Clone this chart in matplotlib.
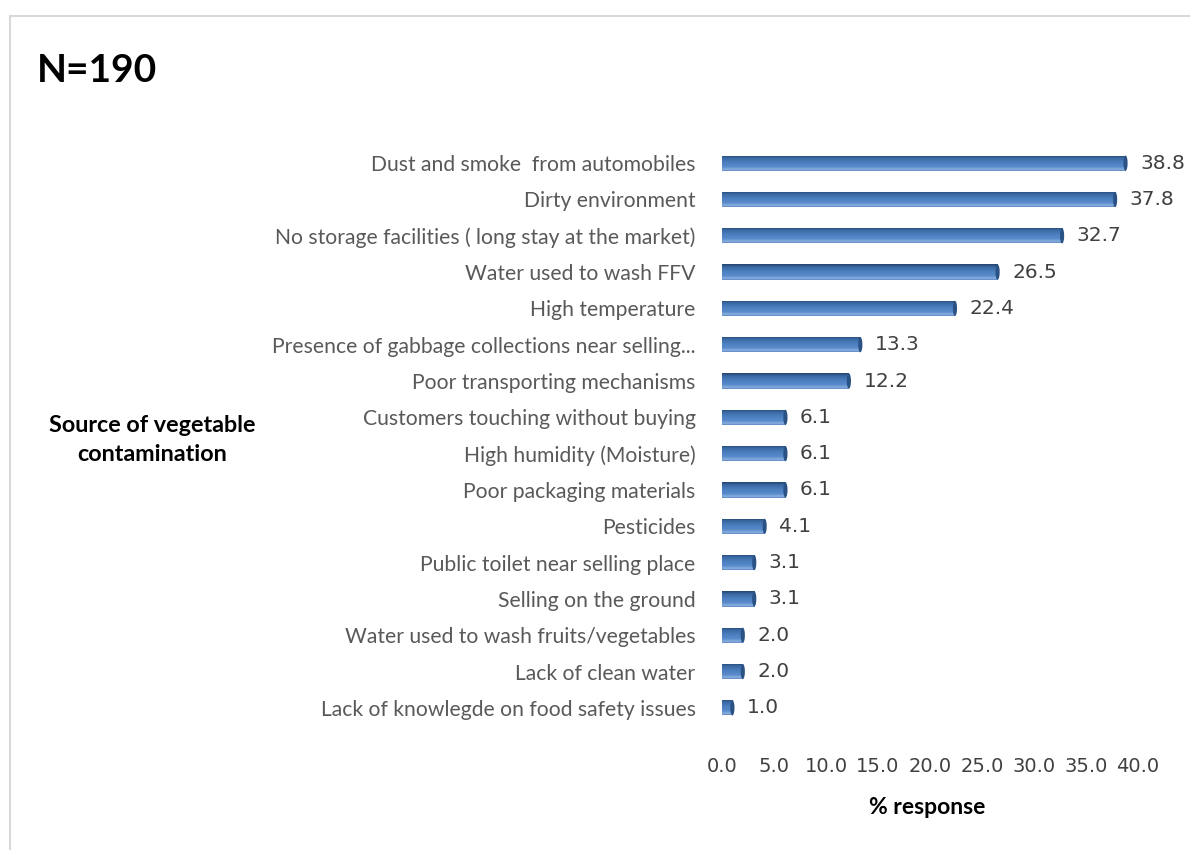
import numpy as np
import matplotlib
matplotlib.use("Agg")
import matplotlib.pyplot as plt
from matplotlib.colors import LinearSegmentedColormap
from matplotlib.patches import Rectangle, Ellipse

# datos del grafico (de arriba a abajo)
categorias = ["Dust and smoke  from automobiles",
              "Dirty environment",
              "No storage facilities ( long stay at the market)",
              "Water used to wash FFV",
              "High temperature",
              "Presence of gabbage collections near selling...",
              "Poor transporting mechanisms",
              "Customers touching without buying",
              "High humidity (Moisture)",
              "Poor packaging materials",
              "Pesticides",
              "Public toilet near selling place",
              "Selling on the ground",
              "Water used to wash fruits/vegetables",
              "Lack of clean water",
              "Lack of knowlegde on food safety issues"]
valores = [38.8, 37.8, 32.7, 26.5, 22.4, 13.3, 12.2, 6.1, 6.1, 6.1,
           4.1, 3.1, 3.1, 2.0, 2.0, 1.0]
ticks_x = [0, 5, 10, 15, 20, 25, 30, 35, 40]

W, H = 1190, 850
fig = plt.figure(figsize=(W / 100, H / 100), dpi=100)
fig.patch.set_facecolor("white")

# marco gris del grafico
fig.patches.append(Rectangle((10 / W, -0.1), 1.2, 1.1 - 16 / H,
                             transform=fig.transFigure, fill=False,
                             edgecolor="#D9D9D9", lw=1.5))

ax = fig.add_axes([722 / W, 1 - 726 / H, 416 / W, 581 / H])

y = np.arange(len(categorias))
bars = ax.barh(y, valores, height=0.42, color="#4F81BD", zorder=2)

# efecto cilindro con gradiente (abajo oscuro, arriba claro)
cmap = LinearSegmentedColormap.from_list(
    "cil", [(0.0, "#24456E"), (0.18, "#3A68A3"), (0.45, "#4A7EBE"),
            (0.75, "#5A8CCB"), (0.9, "#8AB0E0"), (1.0, "#5C88C2")])
grad = np.linspace(0, 1, 64).reshape(-1, 1)
for b in bars:
    x0, y0 = b.get_xy()
    w, h = b.get_width(), b.get_height()
    im = ax.imshow(grad, extent=[x0, x0 + w, y0 + h, y0], aspect="auto",
                   cmap=cmap, origin="upper", zorder=3, interpolation="bilinear")
    im.set_clip_path(b)
    ax.add_patch(Ellipse((x0 + w, y0 + h / 2), 0.4, h, facecolor="#2A5285",
                         edgecolor="none", zorder=4))
    ax.text(x0 + w + 1.4, y0 + h / 2, f"{w:.1f}", va="center", ha="left",
            fontsize=14.5, color="#404040", family="DejaVu Sans")

ax.set_xlim(0, 40)
ax.set_ylim(len(categorias) - 0.5, -0.5)
ax.set_xticks(ticks_x)
ax.set_xticklabels([f"{t:.1f}" for t in ticks_x], fontsize=14,
                   color="#404040", family="DejaVu Sans")
ax.set_yticks(y)
ax.set_yticklabels(categorias, fontsize=15.2, color="#595959", family="Lato")
ax.tick_params(axis="x", length=0, pad=22)
ax.tick_params(axis="y", length=0, pad=19)
for s in ax.spines.values():
    s.set_visible(False)

fig.text(37 / W, 1 - 82 / H, "N=190", fontsize=28, fontweight="bold",
         family="Lato", va="baseline", ha="left")
fig.text(927 / W, 1 - 808 / H, "% response", fontsize=16.5, fontweight="bold",
         family="Lato", va="center", ha="center")
fig.text(152 / W, 1 - 440 / H, "Source of vegetable\ncontamination",
         fontsize=16.8, fontweight="bold", family="Lato", va="center",
         ha="center", linespacing=1.45)

fig.savefig("out.png", dpi=100)
